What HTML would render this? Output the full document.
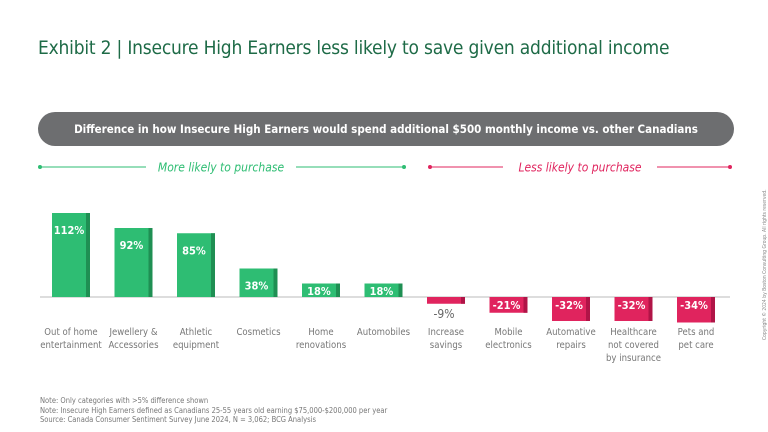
<!DOCTYPE html>
<html><head><meta charset="utf-8"><style>
body{margin:0;width:768px;height:432px;background:#fff;font-family:"DejaVu Sans Condensed","Liberation Sans",sans-serif;overflow:hidden;position:relative}
.t{position:absolute;white-space:nowrap}
</style></head><body>
<div class="t" style="left:38px;top:37px;font-size:19px;color:#1e6b47;font-family:'DejaVu Sans Condensed','Liberation Sans Narrow',sans-serif;letter-spacing:-0.2px">Exhibit 2 | Insecure High Earners less likely to save given additional income</div>
<div style="position:absolute;left:38px;top:112px;width:696px;height:34px;border-radius:17px;background:#6d6e70;color:#fff;font-size:11.5px;font-weight:bold;text-align:center;line-height:34px;font-family:'DejaVu Sans Condensed',sans-serif;white-space:nowrap">Difference in how Insecure High Earners would spend additional $500 monthly income vs. other Canadians</div>
<svg id="c" width="768" height="432" style="position:absolute;left:0;top:0"></svg>
<div class="t" style="left:40px;top:396px;font-size:7.5px;line-height:9.5px;color:#777">Note: Only categories with &gt;5% difference shown<br>Note: Insecure High Earners defined as Canadians 25-55 years old earning $75,000-$200,000 per year<br>Source: Canada Consumer Sentiment Survey June 2024, N = 3,062; BCG Analysis</div>
<div class="t" style="left:762px;top:340px;font-size:5px;color:#888;transform:rotate(-90deg);transform-origin:0 0">Copyright © 2024 by Boston Consulting Group. All rights reserved.</div>
<script>
const categories=["Out of home|entertainment","Jewellery &|Accessories","Athletic|equipment","Cosmetics","Home|renovations","Automobiles","Increase|savings","Mobile|electronics","Automative|repairs","Healthcare|not covered|by insurance","Pets and|pet care"];
const values=[112,92,85,38,18,18,-9,-21,-32,-32,-34];
const valueLabels=["112%","92%","85%","38%","18%","18%","-9%","-21%","-32%","-32%","-34%"];
const svg=document.getElementById('c');const NS="http://www.w3.org/2000/svg";
const y0=297,k=0.75,x0=71,step=62.5,bw=38;
const Y=v=>y0-v*k, X=i=>x0+i*step;
function el(t,a){const e=document.createElementNS(NS,t);for(const n in a)e.setAttribute(n,a[n]);svg.appendChild(e);return e;}
function leg(x1,x2,lx1,lx2,col,txt,tx,name){
 let g=el('g',{});
 
 
 [[x1,lx1],[lx2,x2]].forEach(p=>{const l=document.createElementNS(NS,'line');l.setAttribute('x1',p[0]);l.setAttribute('x2',p[1]);l.setAttribute('y1',167);l.setAttribute('y2',167);l.setAttribute('stroke',col);l.setAttribute('stroke-width',1);g.appendChild(l);});
 [x1,x2].forEach(x=>{const c=document.createElementNS(NS,'circle');c.setAttribute('cx',x);c.setAttribute('cy',167);c.setAttribute('r',2);c.setAttribute('fill',col);g.appendChild(c);});
 const t=document.createElementNS(NS,'text');t.setAttribute('x',tx);t.setAttribute('y',171.5);t.setAttribute('text-anchor','middle');t.setAttribute('fill',col);t.setAttribute('font-size','12');t.setAttribute('font-style','italic');t.textContent=txt;g.appendChild(t);
}
leg(40,404,146,296,'#2ebd73','More likely to purchase',221,'legend-more-likely');
leg(430,730,503,657,'#e0245e','Less likely to purchase',580,'legend-less-likely');
const ax=el('line',{x1:40,x2:730,y1:y0,y2:y0,stroke:'#bbb','stroke-width':1});


values.forEach((v,i)=>{
 const pos=v>=0, col=pos?'#2ebd73':'#e0245e', dk=pos?'#1f8f53':'#b01447';
 const top=Math.min(Y(v),y0), h=Math.abs(Y(v)-y0), xl=X(i)-bw/2;
 const g=el('g',{});
 
 
 const r1=document.createElementNS(NS,'rect');r1.setAttribute('x',xl);r1.setAttribute('y',top);r1.setAttribute('width',bw);r1.setAttribute('height',h);r1.setAttribute('fill',col);g.appendChild(r1);
 const r2=document.createElementNS(NS,'rect');r2.setAttribute('x',xl+bw-4);r2.setAttribute('y',top);r2.setAttribute('width',4);r2.setAttribute('height',h);r2.setAttribute('fill',dk);g.appendChild(r2);
 const t=el('text',{x:X(i)-2,'text-anchor':'middle','font-size':'11','font-weight':'bold'});
 
 
 if(h<10){t.setAttribute('y',Y(v)+14);t.setAttribute('fill','#666');t.setAttribute('font-weight','normal');t.setAttribute('font-size','12');}
 else{t.setAttribute('y',pos?Math.min(top+21,y0-2):top+12);t.setAttribute('fill','#fff');}
 t.textContent=valueLabels[i];
 categories[i].split('|').forEach((ln,j)=>{
  const c=el('text',{x:X(i),y:335+j*13,'text-anchor':'middle','font-size':'9.5',fill:'#777'});
  
  
  c.textContent=ln;
 });
});
</script>
</body></html>
